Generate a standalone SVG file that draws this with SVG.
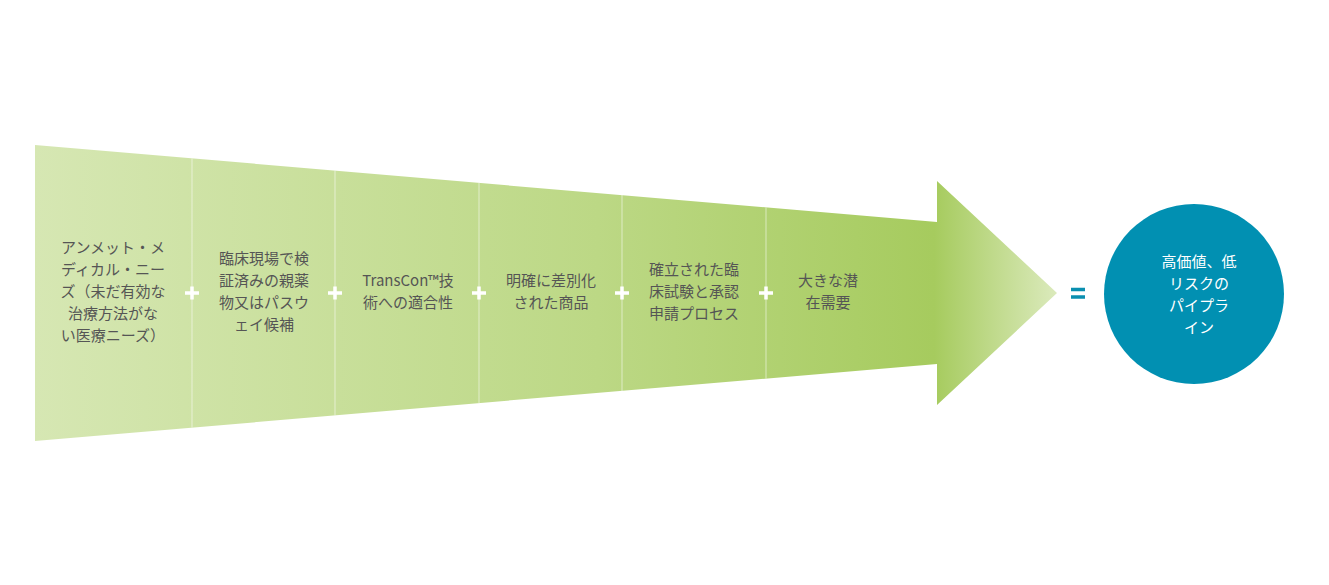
<svg xmlns="http://www.w3.org/2000/svg" width="1329" height="585" viewBox="0 0 1329 585">
<defs>
<linearGradient id="body" gradientUnits="userSpaceOnUse" x1="35" y1="0" x2="1057" y2="0">
<stop offset="0" stop-color="#d6e7b3"/>
<stop offset="0.55" stop-color="#bcd885"/>
<stop offset="0.88" stop-color="#a6cb5e"/>
<stop offset="1" stop-color="#dbeabc"/>
</linearGradient>
<style>
.t{font-family:"Noto Sans CJK JP","Noto Sans",sans-serif;font-size:15px;fill:#555555;text-anchor:middle}
.w{font-family:"Noto Sans CJK JP","Noto Sans",sans-serif;font-size:15px;fill:#ffffff;text-anchor:middle}
.div{stroke:#ffffff;stroke-opacity:0.45;stroke-width:1.2}
.plus{stroke:#ffffff;stroke-width:3.5}
</style>
</defs>
<rect width="1329" height="585" fill="#ffffff"/>
<g id="arrow">
<path d="M35 145 L937 222 L937 181 L1057 293 L937 405 L937 364 L35 441 Z" fill="url(#body)"/>
</g>
<g id="connectors">
<line class="div" x1="192" y1="158.4" x2="192" y2="427.6"/>
<line class="div" x1="335" y1="170.6" x2="335" y2="415.4"/>
<line class="div" x1="479" y1="182.9" x2="479" y2="403.1"/>
<line class="div" x1="622" y1="195.1" x2="622" y2="390.9"/>
<line class="div" x1="766" y1="207.4" x2="766" y2="378.6"/>
<g class="plus">
<path d="M185 293h14M192 286.5v13"/>
<path d="M328 293h14M335 286.5v13"/>
<path d="M472 293h14M479 286.5v13"/>
<path d="M615 293h14M622 286.5v13"/>
<path d="M759 293h14M766 286.5v13"/>
</g>
<path d="M1071 289.5h14M1071 297h14" stroke="#0a8fb0" stroke-width="3.5"/>
</g>
<g id="n1">
<text class="t" x="113" y="253">アンメット・メ</text>
<text class="t" x="113" y="275">ディカル・ニー</text>
<text class="t" x="113" y="297">ズ（未だ有効な</text>
<text class="t" x="113" y="319">治療方法がな</text>
<text class="t" x="113" y="341">い医療ニーズ）</text>
</g>
<g id="n2">
<text class="t" x="264" y="264">臨床現場で検</text>
<text class="t" x="264" y="286">証済みの親薬</text>
<text class="t" x="264" y="308">物又はパスウ</text>
<text class="t" x="264" y="330">ェイ候補</text>
</g>
<g id="n3">
<text class="t" x="408" y="286">TransCon™技</text>
<text class="t" x="408" y="308">術への適合性</text>
</g>
<g id="n4">
<text class="t" x="551" y="286">明確に差別化</text>
<text class="t" x="551" y="308">された商品</text>
</g>
<g id="n5">
<text class="t" x="694" y="275">確立された臨</text>
<text class="t" x="694" y="297">床試験と承認</text>
<text class="t" x="694" y="319">申請プロセス</text>
</g>
<g id="n6">
<text class="t" x="828" y="286">大きな潜</text>
<text class="t" x="828" y="308">在需要</text>
</g>
<g id="result">
<circle cx="1194" cy="294" r="90" fill="#0190b2"/>
<text class="w" x="1199" y="267">高価値、低</text>
<text class="w" x="1199" y="289">リスクの</text>
<text class="w" x="1199" y="311">パイプラ</text>
<text class="w" x="1199" y="333">イン</text>
</g>
</svg>
